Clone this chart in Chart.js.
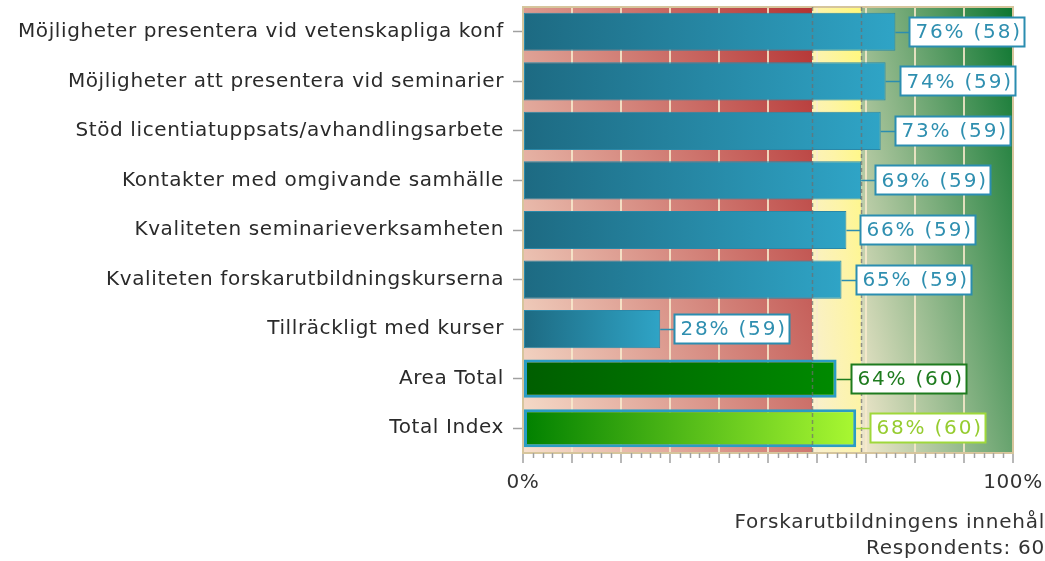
<!DOCTYPE html>
<html>
<head>
<meta charset="utf-8">
<script src="https://cdn.jsdelivr.net/npm/chart.js@4/dist/chart.umd.min.js"></script>
<style>
html, body { margin: 0; padding: 0; background: #fff; }
</style>
</head>
<body>
<canvas id="myChart" width="1045" height="561"></canvas>
<script>
// Data
const categories = [
    'Möjligheter presentera vid vetenskapliga konf',
    'Möjligheter att presentera vid seminarier',
    'Stöd licentiatuppsats/avhandlingsarbete',
    'Kontakter med omgivande samhälle',
    'Kvaliteten seminarieverksamheten',
    'Kvaliteten forskarutbildningskurserna',
    'Tillräckligt med kurser',
    'Area Total',
    'Total Index'
];
const percents = [76, 74, 73, 69, 66, 65, 28, 64, 68];
const counts = [58, 59, 59, 59, 59, 59, 59, 60, 60];
const axisLabels = { 0: '0%', 100: '100%' };
const zoneLimits = [59, 69]; // red | yellow | green
const footer = ['Forskarutbildningens innehål', 'Respondents: 60'];

// Styles
const FONT = '"DejaVu Sans", Verdana, sans-serif';
const palettes = {
    question: { from: '#1d6a82', to: '#2fa4c6', border: '#2a88a8', width: 1, label: '#2b8db0', text: '#2f8fb0' },
    'Area Total': { from: '#005e00', to: '#008a00', border: '#2a9cc4', width: 3, label: '#1e7b1e', text: '#1e7b1e' },
    'Total Index': { from: '#008000', to: '#aaf832', border: '#2a9cc4', width: 3, label: '#9fd83a', text: '#96cc30' }
};
const paletteFor = i => palettes[categories[i]] || palettes.question;

// gradient running from bottom-left to top-right of a box, 'tilt' weights the vertical part
function diagGradient(ctx, left, top, right, bottom, tilt, stops) {
    const w = right - left, h = bottom - top;
    const dx = 1 / w, dy = -tilt / h;
    const len2 = dx * dx + dy * dy;
    const span = 1 + tilt;
    const g = ctx.createLinearGradient(left, bottom, left + dx * span / len2, bottom + dy * span / len2);
    stops.forEach(s => g.addColorStop(s[0], s[1]));
    return g;
}

function barFill(context) {
    const chart = context.chart;
    if (!chart.chartArea) return null;
    const x = chart.scales.x;
    const p = paletteFor(context.dataIndex);
    const x0 = x.getPixelForValue(0);
    const x1 = x.getPixelForValue(percents[context.dataIndex]);
    const g = chart.ctx.createLinearGradient(x0, 0, x1, 0);
    g.addColorStop(0, p.from);
    g.addColorStop(1, p.to);
    return g;
}

const zonesPlugin = {
    id: 'zones',
    beforeDraw(chart) {
        const { ctx, chartArea: a, scales: { x } } = chart;
        const xa = x.getPixelForValue(zoneLimits[0]);
        const xb = x.getPixelForValue(zoneLimits[1]);
        ctx.save();
        ctx.fillStyle = diagGradient(ctx, a.left, a.top, xa, a.bottom, 0.66,
            [[0, '#f7e0cd'], [1, '#b43232']]);
        ctx.fillRect(a.left, a.top, xa - a.left, a.bottom - a.top);
        ctx.fillStyle = diagGradient(ctx, xa, a.top, xb, a.bottom, 0.9,
            [[0, '#f8efd2'], [0.55, '#fdf4a8'], [1, '#fff87a']]);
        ctx.fillRect(xa, a.top, xb - xa, a.bottom - a.top);
        ctx.fillStyle = diagGradient(ctx, xb, a.top, a.right, a.bottom, 0.66,
            [[0, '#f2e8cd'], [1, '#0c7630']]);
        ctx.fillRect(xb, a.top, a.right - xb, a.bottom - a.top);
        ctx.restore();
        ctx.letterSpacing = '0.6px';
    },
    beforeDatasetsDraw(chart) {
        const { ctx, chartArea: a } = chart;
        ctx.save();
        ctx.strokeStyle = '#d6c59c';
        ctx.lineWidth = 2;
        ctx.strokeRect(a.left, a.top, a.right - a.left, a.bottom - a.top);
        ctx.restore();
    },
    afterDatasetsDraw(chart) {
        const { ctx, chartArea: a, scales: { x } } = chart;
        ctx.save();
        // threshold lines
        ctx.strokeStyle = 'rgba(110,110,110,0.7)';
        ctx.lineWidth = 1.5;
        ctx.setLineDash([4, 3]);
        zoneLimits.forEach(v => {
            const px = Math.round(x.getPixelForValue(v)) + 0.5;
            ctx.beginPath();
            ctx.moveTo(px, a.top);
            ctx.lineTo(px, a.bottom);
            ctx.stroke();
        });
        ctx.setLineDash([]);

        // value boxes
        ctx.font = '20px ' + FONT;
        ctx.letterSpacing = '1.8px';
        ctx.textBaseline = 'middle';
        ctx.textAlign = 'left';
        chart.getDatasetMeta(0).data.forEach((bar, i) => {
            const p = paletteFor(i);
            const txt = percents[i] + '% (' + counts[i] + ')';
            const tw = ctx.measureText(txt).width;
            const bx = Math.round(bar.x + 14) + 0.5;
            const by = Math.round(bar.y - 15) + 0.5;
            const bw = Math.round(tw + 9), bh = 29;
            ctx.strokeStyle = p.label;
            ctx.lineWidth = 1.5;
            ctx.beginPath();
            ctx.moveTo(bar.x, Math.round(bar.y) + 0.5);
            ctx.lineTo(bx, Math.round(bar.y) + 0.5);
            ctx.stroke();
            ctx.fillStyle = '#fff';
            ctx.fillRect(bx, by, bw, bh);
            ctx.lineWidth = 2;
            ctx.strokeRect(bx, by, bw, bh);
            ctx.fillStyle = p.text;
            ctx.fillText(txt, bx + 6, bar.y + 1);
        });
        ctx.restore();
    },
    afterDraw(chart) {
        const { ctx, chartArea: a, scales: { x } } = chart;
        ctx.save();
        // minor ticks every 2%
        ctx.strokeStyle = '#a0a0a0';
        ctx.lineWidth = 1.5;
        for (let v = 2; v < 100; v += 2) {
            if (v % 10 === 0) continue;
            const px = Math.round(x.getPixelForValue(v)) + 0.5;
            ctx.beginPath();
            ctx.moveTo(px, a.bottom);
            ctx.lineTo(px, a.bottom + 5);
            ctx.stroke();
        }
        ctx.fillStyle = '#333';
        ctx.font = '20px ' + FONT;
        ctx.letterSpacing = '0.75px';
        ctx.textAlign = 'right';
        ctx.textBaseline = 'middle';
        ctx.fillText(footer[0], chart.width, 523);
        ctx.fillText(footer[1], chart.width, 549);
        ctx.restore();
    }
};

const ctx = document.getElementById('myChart').getContext('2d');
const chart = new Chart(ctx, {
    type: 'bar',
    data: {
        labels: categories,
        datasets: [{
            data: percents,
            backgroundColor: barFill,
            borderColor: c => paletteFor(c.dataIndex).border,
            borderWidth: c => paletteFor(c.dataIndex).width,
            borderSkipped: false,
            barPercentage: 0.77,
            categoryPercentage: 1
        }]
    },
    options: {
        indexAxis: 'y',
        responsive: false,
        animation: false,
        layout: { padding: { top: 7, right: 32, bottom: 0, left: 0 } },
        plugins: { legend: { display: false }, tooltip: { enabled: false } },
        scales: {
            x: {
                min: 0,
                max: 100,
                afterFit: s => { s.height = 108; s.paddingLeft = 0; s.paddingRight = 0; },
                border: { display: false },
                grid: {
                    color: c => (c.tick && c.tick.value > 0 && c.tick.value < 100) ? 'rgba(248,234,205,0.85)' : 'rgba(0,0,0,0)',
                    lineWidth: 2,
                    tickColor: '#a0a0a0',
                    tickWidth: 1.5,
                    tickLength: 10
                },
                ticks: {
                    stepSize: 10,
                    autoSkip: false,
                    maxRotation: 0,
                    padding: 8,
                    color: '#333',
                    font: { family: FONT, size: 20 },
                    callback: v => axisLabels[v] || ''
                }
            },
            y: {
                afterFit: s => { s.width = 523; s.paddingTop = 0; s.paddingBottom = 0; },
                border: { display: false },
                grid: {
                    offset: false,
                    drawOnChartArea: false,
                    tickColor: '#a0a0a0',
                    tickWidth: 1.5,
                    tickLength: 10
                },
                ticks: {
                    padding: 9,
                    color: '#2a2a2a',
                    font: { family: FONT, size: 20 }
                }
            }
        }
    },
    plugins: [zonesPlugin]
});
</script>
</body>
</html>
